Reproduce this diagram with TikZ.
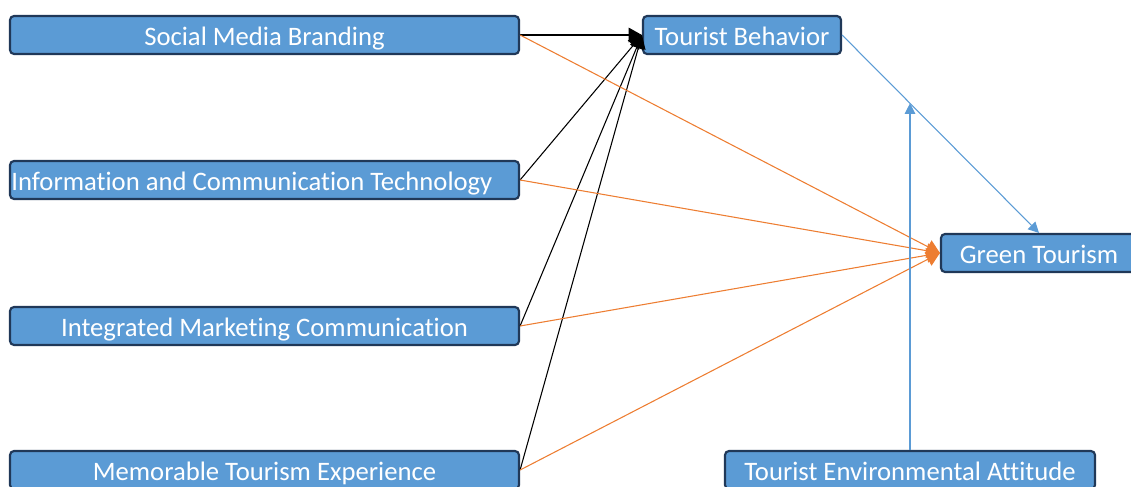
\documentclass[tikz,border=0pt]{standalone}
\usepackage{fontspec}
\setmainfont[Ligatures={NoCommon}]{Carlito}
\usepackage{xcolor}
\usetikzlibrary{shapes, arrows.meta, positioning, calc}
\definecolor{boxblue}{RGB}{91,155,213}
\definecolor{boxline}{RGB}{32,56,88}
\definecolor{linkorange}{RGB}{237,125,49}
\definecolor{linkblue}{RGB}{91,155,213}
\begin{document}
\begin{tikzpicture}[x=0.75pt, y=-0.75pt,
    box/.style={draw=boxline, line width=1.6pt, fill=boxblue, rounded corners=3pt,
        text=white, minimum height=28.5pt, inner sep=1pt, text height=17pt, text depth=2pt,
        font=\fontsize{20}{22}\selectfont},
    toBehavior/.style={-{Triangle[length=10pt, width=11pt]}, black, line width=0.8pt},
    toGreen/.style={-{Triangle[length=10pt, width=11pt]}, linkorange, line width=0.8pt},
    moderate/.style={-{Triangle[length=8pt, width=8pt]}, linkblue, line width=0.8pt}]
        \useasboundingbox (0,0) rectangle (1131,486);
        \clip (0,0) rectangle (1131,486);
        % Nodes
        \node[box, minimum width=381.75pt] (smb) at (264.5,35) {Social Media Branding};
        \node[box, minimum width=381.75pt, text width=379.75pt, align=flush left] (ict) at (264.5,180) {Information and Communication Technology};
        \node[box, minimum width=381.75pt] (imc) at (264.5,326) {Integrated Marketing Communication};
        \node[box, minimum width=381.75pt] (mte) at (264.5,470) {Memorable Tourism Experience};
        \node[box, minimum width=148.5pt] (tb) at (742,35) {Tourist Behavior};
        \node[box, minimum width=147pt] (gt) at (1039,253) {Green Tourism};
        \node[box, minimum width=277.5pt] (tea) at (910,470) {Tourist Environmental Attitude};

        % Black arrows
        \draw[toBehavior] (smb.east) -- (tb.west);
        \draw[toBehavior] (ict.east) -- (tb.west);
        \draw[toBehavior] (imc.east) -- (tb.west);
        \draw[toBehavior] (mte.east) -- (tb.west);

        % Orange arrows
        \draw[toGreen] (smb.east) -- (gt.west);
        \draw[toGreen] (ict.east) -- (gt.west);
        \draw[toGreen] (imc.east) -- (gt.west);
        \draw[toGreen] (mte.east) -- (gt.west);

        % Blue arrows
        \draw[moderate] (tb.east) -- (gt.north);
        \coordinate (meet) at ($(tb.east)!0.345!(gt.north)$);
        \draw[moderate] (tea.north) -- (tea.north |- meet);
    \end{tikzpicture}
\end{document}
